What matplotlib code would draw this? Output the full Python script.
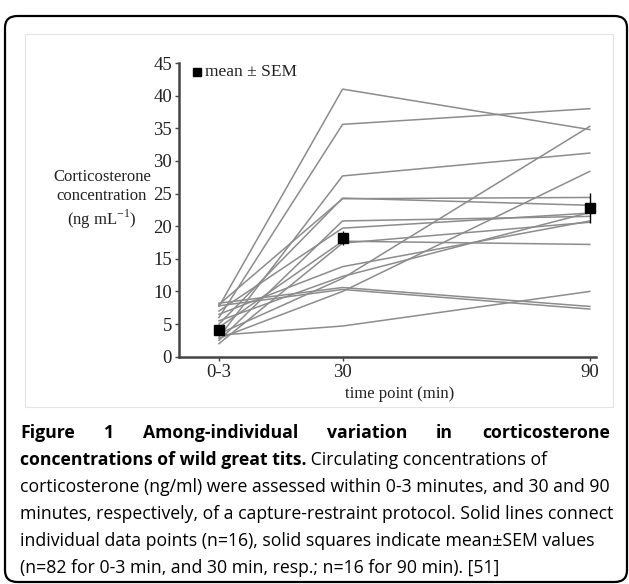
import numpy as np
import matplotlib.pyplot as plt
from matplotlib.patches import FancyBboxPatch, Rectangle

# time points (min) and their tick labels
times = [0, 30, 90]
tick_labels = ['0-3', '30', '90']

# individual corticosterone values (ng/mL) at 0-3, 30 and 90 min
bird_0 = [7.7, 6.0, 3.0, 8.0, 5.0, 2.5, 7.0, 4.5, 2.0, 6.5, 3.5, 8.2, 7.8, 2.8, 3.3, 5.5]
bird_30 = [41.0, 35.6, 27.7, 24.2, 24.3, 20.8, 19.7, 17.7, 17.4, 13.8, 12.0, 10.6, 10.3, 10.0, 4.7, 12.3]
bird_90 = [34.8, 38.0, 31.2, 24.4, 23.2, 21.5, 22.0, 17.2, 20.6, 20.8, 35.3, 7.7, 7.3, 28.4, 10.0, 22.1]

# mean and SEM
mean_vals = [4.1, 18.2, 22.8]
sem_vals = [0.5, 1.1, 2.3]

W, H = 629, 584
fig = plt.figure(figsize=(W / 100, H / 100), dpi=100)

# outer rounded frame and inner light panel
frame = FancyBboxPatch((5 / W, 2 / H), 622 / W, (H - 18) / H,
                       boxstyle='round,pad=0,rounding_size=0.02',
                       transform=fig.transFigure, fill=False,
                       edgecolor='black', linewidth=1.6)
fig.patches.append(frame)
panel = Rectangle((25 / W, 1 - 407 / H), 588 / W, (407 - 34) / H,
                  transform=fig.transFigure, fill=False,
                  edgecolor='#e4e4e4', linewidth=0.8)
fig.patches.append(panel)

ax = fig.add_axes([179 / W, 1 - 356.7 / H, 417 / W, 293.7 / H])

for a, b, c in zip(bird_0, bird_30, bird_90):
    ax.plot(times, [a, b, c], color='#8c8c8c', linewidth=1.1)

ax.errorbar(times, mean_vals, yerr=sem_vals, fmt='s', color='black',
            markersize=7, elinewidth=1, capsize=0, zorder=5)

serif = 'Liberation Serif'
ax.set_xlim(-9.7, 91.5)
ax.set_ylim(0, 45)
ax.set_yticks(range(0, 46, 5))
ax.set_xticks(times)
ax.set_xticklabels(tick_labels)
for lab in ax.get_xticklabels() + ax.get_yticklabels():
    lab.set_fontfamily(serif)
    lab.set_fontsize(13.5)
    lab.set_color('#222222')
ax.tick_params(length=3, width=1, color='#444444', pad=2)

for s in ['top', 'right']:
    ax.spines[s].set_visible(False)
for s in ['left', 'bottom']:
    ax.spines[s].set_color('#444444')
    ax.spines[s].set_linewidth(1.8)

# legend marker and text
ax.plot([-5.3], [43.6], 's', color='black', markersize=6, clip_on=False)
ax.text(-3.4, 43.6, 'mean \u00b1 SEM', fontfamily=serif, fontsize=12.5,
        va='center', ha='left', color='#222222')

# axis labels
fig.text(102 / W, 1 - 200 / H,
         'Corticosterone\nconcentration\n(ng mL$^{\\mathregular{-1}}$)',
         fontfamily=serif, fontsize=12, ha='center', va='center',
         linespacing=1.25, color='#222222')
fig.text(400 / W, 1 - 394 / H, 'time point (min)', fontfamily=serif,
         fontsize=12, ha='center', va='center', color='#222222')

# caption
cap = 'Open Sans'
fs = 12.7
x_left, x_right = 20, 610

# first line is justified: measure words, then spread them out
words = ['Figure', '1', 'Among-individual', 'variation', 'in', 'corticosterone']
y1 = 1 - 433 / H
txts = [fig.text(0, y1, w, fontfamily=cap, fontweight='bold', fontsize=fs,
                 va='center', ha='left') for w in words]
fig.canvas.draw()
r = fig.canvas.get_renderer()
widths = [t.get_window_extent(r).width for t in txts]
gap = (x_right - x_left - sum(widths)) / (len(words) - 1)
xp = x_left
for t, w in zip(txts, widths):
    t.set_x(xp / W)
    xp += w + gap

t_bold = fig.text(x_left / W, 1 - 460 / H, 'concentrations of wild great tits.',
                  fontfamily=cap, fontweight='bold', fontsize=fs, va='center',
                  ha='left')
ax.annotate(' Circulating concentrations of', xy=(1, 0), xycoords=t_bold,
            va='bottom', ha='left', fontfamily=cap, fontsize=fs,
            annotation_clip=False)

rest = ['corticosterone (ng/ml) were assessed within 0-3 minutes, and 30 and 90',
        'minutes, respectively, of a capture-restraint protocol. Solid lines connect',
        'individual data points (n=16), solid squares indicate mean\u00b1SEM values',
        '(n=82 for 0-3 min, and 30 min, resp.; n=16 for 90 min). [51]']
for i, line in enumerate(rest):
    fig.text(x_left / W, 1 - (487 + 27 * i) / H, line, fontfamily=cap,
             fontsize=fs, va='center', ha='left')

fig.savefig('out.png', dpi=100)
